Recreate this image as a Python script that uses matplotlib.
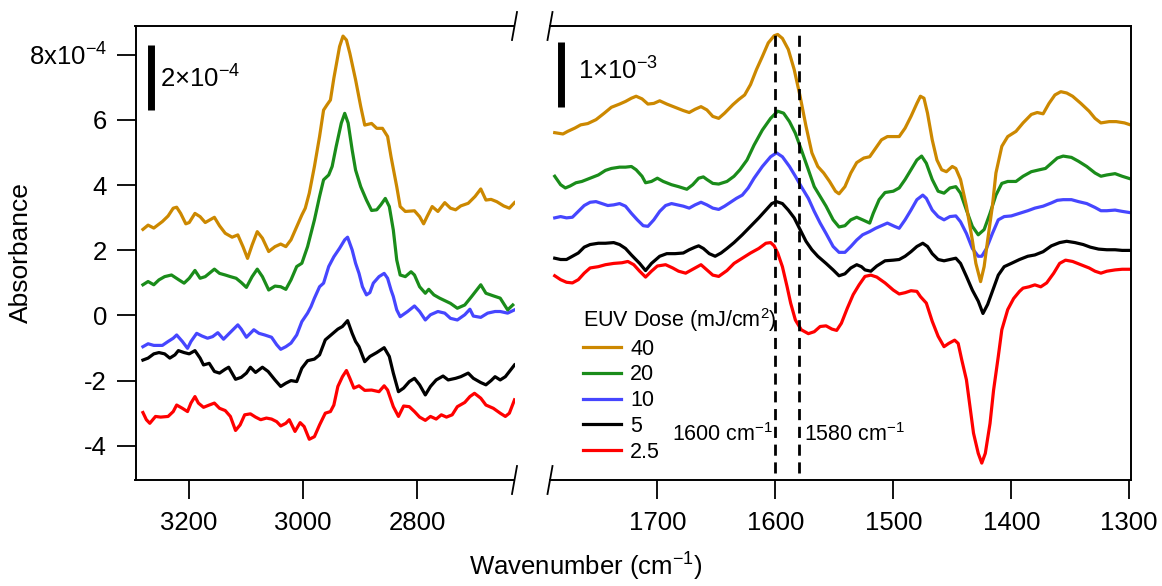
import matplotlib
matplotlib.use("Agg")
import matplotlib.pyplot as plt
from matplotlib.lines import Line2D

plt.rcParams["font.family"] = ["Liberation Sans", "DejaVu Sans"]
plt.rcParams["mathtext.fontset"] = "custom"
plt.rcParams["mathtext.rm"] = "Liberation Sans"
plt.rcParams["mathtext.it"] = "Liberation Sans:italic"
plt.rcParams["mathtext.bf"] = "Liberation Sans:bold"
plt.rcParams["axes.unicode_minus"] = False

# ---- data: left panel (C-H region), absorbance in units of 1e-4 ----
L_WN_40 = [3280, 3271, 3261, 3246, 3236, 3227, 3221, 3214, 3205, 3199, 3189, 3180, 3171, 3155, 3146, 3136,
           3124, 3114, 3105, 3097, 3089, 3080, 3071, 3060, 3049, 3039, 3030, 3021, 3011, 3002, 2996, 2989,
           2980, 2971, 2964, 2958, 2952, 2946, 2936, 2930, 2924, 2918, 2908, 2899, 2892, 2880, 2871, 2861,
           2852, 2846, 2836, 2830, 2821, 2805, 2796, 2789, 2783, 2774, 2764, 2752, 2742, 2733, 2724, 2711,
           2699, 2689, 2680, 2671, 2661, 2649, 2639, 2630]
L_AB_40 = [2.64, 2.77, 2.68, 2.88, 3.05, 3.29, 3.32, 3.13, 2.81, 2.85, 3.13, 3.03, 2.85, 3.01, 2.75, 2.52,
           2.40, 2.47, 2.11, 1.75, 2.16, 2.57, 2.37, 1.96, 2.11, 2.19, 2.11, 2.32, 2.72, 3.08, 3.29, 3.75,
           4.57, 5.49, 6.30, 6.46, 6.61, 7.28, 8.25, 8.57, 8.45, 8.04, 7.23, 6.41, 5.84, 5.89, 5.74, 5.74,
           5.49, 4.87, 3.95, 3.34, 3.19, 3.21, 3.03, 2.81, 3.03, 3.34, 3.19, 3.46, 3.29, 3.24, 3.36, 3.44,
           3.65, 3.88, 3.54, 3.56, 3.49, 3.36, 3.29, 3.46]

L_WN_20 = [3280, 3271, 3261, 3252, 3242, 3230, 3217, 3208, 3199, 3189, 3180, 3171, 3155, 3146, 3136, 3127,
           3117, 3108, 3099, 3089, 3080, 3071, 3060, 3049, 3039, 3030, 3021, 3011, 3002, 2992, 2980, 2971,
           2964, 2955, 2949, 2942, 2933, 2927, 2921, 2914, 2908, 2899, 2889, 2880, 2871, 2864, 2856, 2849,
           2842, 2836, 2830, 2821, 2811, 2805, 2796, 2786, 2780, 2771, 2761, 2742, 2730, 2717, 2705, 2689,
           2680, 2667, 2655, 2642, 2633]
L_AB_20 = [0.94, 1.04, 0.94, 1.09, 1.19, 1.24, 1.09, 0.99, 1.14, 1.38, 1.14, 1.19, 1.42, 1.29, 1.24, 1.19,
           1.14, 1.01, 0.86, 1.19, 1.42, 1.19, 0.78, 0.90, 0.88, 0.80, 1.09, 1.50, 1.60, 2.11, 2.93, 3.65,
           4.16, 4.31, 4.57, 5.18, 5.90, 6.20, 5.90, 5.08, 4.46, 3.95, 3.54, 3.22, 3.24, 3.39, 3.59, 3.34,
           2.62, 1.70, 1.24, 1.19, 1.34, 1.24, 0.88, 0.68, 0.80, 0.63, 0.53, 0.37, 0.22, 0.32, 0.58, 0.94,
           0.68, 0.60, 0.53, 0.17, 0.32]

L_WN_10 = [3280, 3271, 3261, 3246, 3236, 3227, 3221, 3211, 3202, 3196, 3186, 3177, 3167, 3158, 3149, 3139,
           3130, 3114, 3108, 3099, 3086, 3077, 3067, 3055, 3046, 3039, 3030, 3021, 3011, 3002, 2992, 2986,
           2980, 2971, 2964, 2955, 2946, 2936, 2927, 2922, 2914, 2908, 2902, 2896, 2889, 2883, 2877, 2867,
           2858, 2852, 2846, 2842, 2836, 2830, 2817, 2805, 2796, 2786, 2777, 2764, 2752, 2742, 2730, 2717,
           2708, 2702, 2689, 2677, 2664, 2655, 2642, 2630]
L_AB_10 = [-0.96, -0.87, -0.92, -0.92, -0.80, -0.70, -0.60, -0.80, -1.01, -0.80, -0.55, -0.63, -0.70, -0.65,
           -0.53, -0.73, -0.57, -0.29, -0.42, -0.67, -0.44, -0.55, -0.60, -0.67, -0.90, -1.04, -0.96, -0.85,
           -0.60, -0.19, 0.07, 0.27, 0.53, 0.88, 0.99, 1.50, 1.80, 2.06, 2.32, 2.40, 2.01, 1.60, 1.29, 0.88,
           0.63, 0.70, 0.99, 1.19, 1.29, 1.14, 0.78, 0.58, 0.17, -0.04, 0.12, 0.29, 0.12, -0.14, 0.02, 0.12,
           0.07, -0.09, -0.14, 0.02, 0.19, -0.02, -0.06, 0.07, 0.12, 0.12, 0.07, 0.17]

L_WN_5 = [3280, 3271, 3261, 3252, 3242, 3233, 3224, 3218, 3208, 3199, 3189, 3180, 3174, 3164, 3155, 3146,
          3136, 3130, 3118, 3108, 3099, 3092, 3083, 3071, 3061, 3049, 3039, 3030, 3021, 3011, 3002, 2992,
          2980, 2971, 2961, 2949, 2939, 2931, 2922, 2914, 2908, 2902, 2892, 2883, 2871, 2858, 2849, 2842,
          2833, 2824, 2814, 2805, 2796, 2786, 2777, 2767, 2755, 2746, 2733, 2724, 2711, 2702, 2689, 2680,
          2671, 2664, 2655, 2646, 2630]
L_AB_5 = [-1.37, -1.31, -1.18, -1.14, -1.18, -1.31, -1.21, -1.08, -1.14, -1.18, -1.08, -1.31, -1.52, -1.47,
          -1.72, -1.77, -1.65, -1.59, -1.96, -1.90, -1.77, -1.59, -1.75, -1.59, -1.72, -1.98, -2.18, -2.08,
          -2.00, -2.03, -1.62, -1.39, -1.34, -1.21, -0.75, -0.57, -0.42, -0.34, -0.16, -0.55, -0.80, -0.96,
          -1.42, -1.26, -1.14, -0.99, -1.26, -1.77, -2.34, -2.23, -2.03, -1.93, -2.13, -2.44, -2.18, -1.98,
          -1.86, -1.98, -1.93, -1.88, -1.77, -1.93, -2.06, -2.13, -2.00, -1.88, -1.98, -1.88, -1.52]

L_WN_2p5 = [3280, 3274, 3268, 3258, 3249, 3236, 3227, 3221, 3211, 3202, 3196, 3189, 3183, 3174, 3164, 3155,
            3146, 3136, 3127, 3118, 3110, 3102, 3092, 3083, 3074, 3064, 3055, 3046, 3039, 3030, 3024, 3014,
            3005, 2998, 2989, 2980, 2971, 2961, 2952, 2946, 2939, 2931, 2924, 2918, 2911, 2902, 2892, 2880,
            2867, 2858, 2852, 2842, 2833, 2824, 2814, 2805, 2796, 2786, 2777, 2767, 2758, 2749, 2739, 2730,
            2717, 2708, 2700, 2689, 2680, 2667, 2655, 2646, 2639, 2630]
L_AB_2p5 = [-2.98, -3.20, -3.31, -3.10, -3.12, -3.10, -2.95, -2.75, -2.85, -2.95, -2.69, -2.49, -2.69, -2.82,
            -2.75, -2.69, -2.85, -2.92, -3.10, -3.53, -3.36, -3.05, -3.02, -3.12, -3.20, -3.15, -3.18, -3.26,
            -3.39, -3.31, -3.20, -3.56, -3.29, -3.41, -3.80, -3.72, -3.36, -3.00, -2.95, -2.75, -2.18, -1.88,
            -1.69, -1.93, -2.23, -2.16, -2.30, -2.29, -2.34, -2.16, -2.29, -2.80, -3.10, -2.78, -2.80, -2.95,
            -3.12, -3.22, -3.10, -3.18, -3.05, -3.12, -3.05, -2.80, -2.67, -2.49, -2.39, -2.54, -2.75, -2.85,
            -3.00, -3.10, -3.00, -2.59]

# ---- data: right panel (fingerprint region), absorbance in units of 1e-3 ----
R_WN_40 = [1787, 1780, 1776, 1770, 1765, 1759, 1752, 1745, 1739, 1732, 1727, 1722, 1718, 1713, 1708, 1703,
           1698, 1692, 1685, 1678, 1673, 1668, 1663, 1658, 1653, 1648, 1643, 1636, 1631, 1626, 1621, 1616,
           1611, 1606, 1601, 1598, 1594, 1589, 1584, 1579, 1574, 1569, 1564, 1559, 1554, 1549, 1546, 1541,
           1536, 1531, 1525, 1520, 1515, 1510, 1505, 1500, 1495, 1490, 1485, 1480, 1477, 1474, 1471, 1467,
           1463, 1459, 1455, 1450, 1447, 1443, 1438, 1433, 1430, 1426, 1423, 1420, 1416, 1413, 1408, 1403,
           1396, 1390, 1383, 1378, 1373, 1368, 1363, 1358, 1353, 1348, 1341, 1334, 1329, 1324, 1317, 1311,
           1304, 1299]
R_AB_40 = [5.34, 5.32, 5.36, 5.41, 5.46, 5.48, 5.54, 5.64, 5.73, 5.78, 5.82, 5.87, 5.90, 5.86, 5.78, 5.79,
           5.83, 5.78, 5.73, 5.68, 5.65, 5.70, 5.74, 5.69, 5.59, 5.56, 5.64, 5.77, 5.85, 5.92, 6.08, 6.31,
           6.51, 6.72, 6.83, 6.85, 6.79, 6.62, 6.31, 5.90, 5.44, 5.03, 4.82, 4.72, 4.59, 4.44, 4.40, 4.51,
           4.72, 4.88, 4.95, 4.97, 5.10, 5.23, 5.28, 5.28, 5.28, 5.41, 5.59, 5.79, 5.90, 5.87, 5.64, 5.23,
           4.92, 4.77, 4.74, 4.82, 4.79, 4.62, 4.21, 3.69, 3.33, 3.05, 3.28, 3.69, 4.21, 4.72, 5.13, 5.28,
           5.36, 5.49, 5.62, 5.65, 5.63, 5.79, 5.92, 5.97, 5.95, 5.90, 5.79, 5.67, 5.56, 5.49, 5.51, 5.51,
           5.49, 5.46]

R_WN_20 = [1787, 1782, 1778, 1774, 1769, 1764, 1757, 1750, 1744, 1739, 1732, 1727, 1722, 1718, 1713, 1710,
           1705, 1700, 1695, 1688, 1682, 1675, 1670, 1665, 1661, 1658, 1653, 1648, 1641, 1635, 1630, 1624,
           1618, 1611, 1604, 1598, 1593, 1588, 1583, 1578, 1572, 1567, 1562, 1557, 1551, 1546, 1541, 1536,
           1531, 1526, 1520, 1517, 1512, 1507, 1500, 1495, 1490, 1485, 1480, 1476, 1472, 1467, 1462, 1457,
           1452, 1447, 1443, 1438, 1433, 1428, 1423, 1418, 1413, 1408, 1403, 1396, 1390, 1383, 1376, 1371,
           1366, 1361, 1356, 1349, 1343, 1336, 1329, 1324, 1319, 1312, 1306, 1299]
R_AB_20 = [4.67, 4.54, 4.49, 4.52, 4.57, 4.59, 4.64, 4.69, 4.76, 4.79, 4.81, 4.81, 4.82, 4.77, 4.67, 4.57,
           4.59, 4.64, 4.59, 4.54, 4.51, 4.47, 4.54, 4.64, 4.66, 4.62, 4.56, 4.55, 4.59, 4.67, 4.77, 4.92,
           5.15, 5.38, 5.56, 5.67, 5.64, 5.51, 5.33, 5.08, 4.77, 4.51, 4.36, 4.21, 4.00, 3.89, 3.91, 4.00,
           4.04, 4.00, 3.95, 4.10, 4.31, 4.42, 4.44, 4.49, 4.62, 4.77, 4.92, 4.98, 4.87, 4.62, 4.44, 4.41,
           4.49, 4.51, 4.41, 4.15, 3.90, 3.77, 3.85, 4.10, 4.38, 4.56, 4.59, 4.59, 4.67, 4.74, 4.77, 4.79,
           4.87, 4.95, 4.98, 4.96, 4.90, 4.82, 4.72, 4.67, 4.69, 4.71, 4.67, 4.63]

R_WN_10 = [1787, 1782, 1777, 1772, 1767, 1762, 1757, 1752, 1747, 1742, 1737, 1732, 1727, 1722, 1717, 1712,
           1708, 1703, 1698, 1693, 1688, 1683, 1678, 1673, 1668, 1663, 1658, 1653, 1648, 1643, 1638, 1633,
           1628, 1623, 1618, 1611, 1604, 1599, 1594, 1588, 1583, 1578, 1572, 1567, 1562, 1557, 1551, 1546,
           1541, 1536, 1531, 1526, 1520, 1515, 1510, 1505, 1499, 1495, 1490, 1485, 1480, 1475, 1472, 1467,
           1462, 1457, 1452, 1447, 1443, 1438, 1433, 1428, 1425, 1421, 1416, 1411, 1406, 1400, 1393, 1386,
           1380, 1373, 1366, 1361, 1356, 1349, 1343, 1336, 1329, 1324, 1319, 1312, 1306, 1299]
R_AB_10 = [4.03, 4.05, 4.03, 4.04, 4.13, 4.22, 4.27, 4.28, 4.25, 4.22, 4.23, 4.25, 4.21, 4.10, 4.00, 3.91,
           3.90, 4.00, 4.13, 4.22, 4.25, 4.23, 4.21, 4.18, 4.23, 4.27, 4.23, 4.18, 4.16, 4.21, 4.27, 4.33,
           4.38, 4.49, 4.64, 4.82, 4.97, 5.03, 4.97, 4.82, 4.67, 4.51, 4.33, 4.13, 3.95, 3.79, 3.59, 3.50,
           3.50, 3.59, 3.69, 3.77, 3.82, 3.87, 3.91, 3.95, 3.90, 3.87, 4.00, 4.15, 4.31, 4.38, 4.33, 4.15,
           4.05, 4.00, 4.05, 4.06, 3.97, 3.79, 3.56, 3.44, 3.44, 3.56, 3.79, 4.00, 4.05, 4.06, 4.10, 4.14,
           4.18, 4.21, 4.26, 4.30, 4.31, 4.31, 4.28, 4.25, 4.19, 4.14, 4.14, 4.15, 4.13, 4.11]

R_WN_5 = [1787, 1782, 1777, 1772, 1767, 1762, 1757, 1750, 1744, 1737, 1732, 1727, 1722, 1715, 1710, 1705,
          1698, 1692, 1685, 1678, 1673, 1668, 1665, 1661, 1656, 1651, 1646, 1641, 1635, 1628, 1621, 1614,
          1608, 1603, 1599, 1594, 1589, 1584, 1579, 1574, 1569, 1564, 1557, 1551, 1546, 1541, 1536, 1531,
          1527, 1524, 1519, 1514, 1507, 1500, 1495, 1490, 1485, 1480, 1475, 1471, 1467, 1462, 1457, 1452,
          1447, 1443, 1438, 1433, 1428, 1424, 1420, 1416, 1411, 1406, 1400, 1393, 1386, 1380, 1373, 1366,
          1359, 1353, 1346, 1339, 1333, 1326, 1319, 1312, 1306, 1299]
R_AB_5 = [3.41, 3.39, 3.39, 3.44, 3.49, 3.58, 3.62, 3.64, 3.64, 3.65, 3.62, 3.56, 3.46, 3.33, 3.22, 3.33,
          3.44, 3.48, 3.48, 3.49, 3.54, 3.58, 3.60, 3.56, 3.48, 3.44, 3.49, 3.56, 3.65, 3.77, 3.90, 4.03,
          4.15, 4.25, 4.28, 4.25, 4.15, 4.03, 3.85, 3.67, 3.54, 3.44, 3.33, 3.23, 3.14, 3.17, 3.26, 3.31,
          3.28, 3.23, 3.21, 3.29, 3.37, 3.38, 3.39, 3.44, 3.51, 3.59, 3.64, 3.59, 3.48, 3.39, 3.37, 3.39,
          3.41, 3.33, 3.13, 2.92, 2.75, 2.56, 2.70, 2.90, 3.15, 3.28, 3.33, 3.39, 3.44, 3.46, 3.51, 3.60,
          3.65, 3.67, 3.65, 3.62, 3.58, 3.55, 3.54, 3.54, 3.53, 3.53]

R_WN_2p5 = [1787, 1782, 1777, 1772, 1767, 1762, 1757, 1750, 1744, 1737, 1730, 1725, 1720, 1715, 1710, 1705,
            1700, 1693, 1687, 1682, 1676, 1671, 1666, 1663, 1658, 1653, 1648, 1641, 1635, 1628, 1621, 1614,
            1608, 1604, 1601, 1598, 1594, 1590, 1587, 1583, 1578, 1572, 1567, 1562, 1557, 1552, 1548, 1544,
            1539, 1534, 1529, 1524, 1519, 1514, 1507, 1500, 1495, 1490, 1485, 1480, 1477, 1472, 1467, 1462,
            1457, 1453, 1448, 1445, 1442, 1438, 1435, 1432, 1428, 1425, 1422, 1418, 1415, 1411, 1408, 1403,
            1398, 1393, 1390, 1385, 1380, 1375, 1370, 1364, 1359, 1354, 1348, 1341, 1334, 1329, 1324, 1319,
            1312, 1306, 1299]
R_AB_2p5 = [3.14, 3.08, 3.04, 3.03, 3.08, 3.18, 3.26, 3.28, 3.31, 3.33, 3.34, 3.36, 3.31, 3.21, 3.12, 3.21,
            3.29, 3.31, 3.26, 3.21, 3.18, 3.23, 3.28, 3.31, 3.23, 3.15, 3.13, 3.22, 3.33, 3.41, 3.49, 3.56,
            3.64, 3.65, 3.60, 3.49, 3.28, 2.97, 2.72, 2.46, 2.31, 2.25, 2.28, 2.36, 2.37, 2.32, 2.30, 2.41,
            2.64, 2.85, 3.00, 3.13, 3.15, 3.12, 3.03, 2.92, 2.86, 2.88, 2.91, 2.90, 2.82, 2.72, 2.44, 2.21,
            2.05, 2.10, 2.15, 2.10, 1.85, 1.54, 1.13, 0.72, 0.41, 0.26, 0.41, 0.87, 1.38, 1.90, 2.31, 2.62,
            2.79, 2.90, 2.95, 2.97, 3.00, 2.97, 3.03, 3.18, 3.33, 3.38, 3.36, 3.31, 3.26, 3.21, 3.18, 3.21,
            3.23, 3.24, 3.24]

DOSES = ["40", "20", "10", "5", "2.5"]
COLORS = ["#cc8800", "#1a8c1a", "#4646ff", "black", "#ff0000"]
LEFT = [(L_WN_40, L_AB_40), (L_WN_20, L_AB_20), (L_WN_10, L_AB_10), (L_WN_5, L_AB_5), (L_WN_2p5, L_AB_2p5)]
RIGHT = [(R_WN_40, R_AB_40), (R_WN_20, R_AB_20), (R_WN_10, R_AB_10), (R_WN_5, R_AB_5), (R_WN_2p5, R_AB_2p5)]
MARKERS = [1600, 1580]

W, H = 1162, 586
fig = plt.figure(figsize=(W / 100, H / 100), dpi=100)


def box(x0, y0, x1, y1):  # pixel box (origin top-left) -> figure rect
    return [x0 / W, 1 - y1 / H, (x1 - x0) / W, (y1 - y0) / H]


axL = fig.add_axes(box(135.5, 26, 514.5, 480))
axR = fig.add_axes(box(550, 26, 1131, 480))

LW = 2.3
for (wn, ab), c in reversed(list(zip(LEFT, COLORS))):
    axL.plot(wn, ab, color=c, lw=LW)
handles = []
for (wn, ab), c, d in reversed(list(zip(RIGHT, COLORS, DOSES))):
    (ln,) = axR.plot(wn, ab, color=c, lw=LW, label=d)
    handles.append(ln)
handles = handles[::-1]

axL.set_xlim(3293, 2630)
axL.set_ylim(-5.05, 8.88)
axR.set_xlim(1791, 1298.5)
axR.set_ylim(0, 6.98)

for ax in (axL, axR):
    for s in ax.spines.values():
        s.set_linewidth(1.4)
    ax.tick_params(axis="both", direction="out", length=13.5, width=1.3,
                   labelsize=18.5, pad=9, color="black")
axL.spines["right"].set_visible(False)
axR.spines["left"].set_visible(False)
axR.tick_params(axis="y", left=False, labelleft=False)
axL.tick_params(axis="y", pad=7)

axL.set_xticks([3200, 3000, 2800])
axL.set_yticks([-4, -2, 0, 2, 4, 6, 8])
axL.set_yticklabels(["-4", "-2", "0", "2", "4", "6", "8x10$^{-4}$"])
axR.set_xticks([1700, 1600, 1500, 1400, 1300])

# scale bars
axL.plot([3266, 3266], [6.3, 8.3], color="black", lw=5, solid_capstyle="butt")
axR.plot([1781.5, 1781.5], [5.74, 6.74], color="black", lw=5, solid_capstyle="butt")
fig.text(160 / W, 1 - 88 / H, "2\u00d710$^{-4}$", fontsize=18.5, va="baseline", ha="left")
fig.text(578 / W, 1 - 80 / H, "1\u00d710$^{-3}$", fontsize=18.5, va="baseline", ha="left")

# marker lines
for m in MARKERS:
    axR.axvline(m, ymin=0.015, ymax=0.985, color="black", lw=2, dashes=(4, 2.4))
axR.text(1601.5, 0.60, "1600 cm$^{-1}$", fontsize=15.5, ha="right", va="baseline")
axR.text(1576, 0.60, "1580 cm$^{-1}$", fontsize=15.5, ha="left", va="baseline")

leg = axR.legend(handles=handles, labels=DOSES, title="EUV Dose (mJ/cm$^{2}$)",
                 loc="upper left", bbox_to_anchor=(583 / W, 1 - 306 / H),
                 bbox_transform=fig.transFigure, frameon=False, fontsize=15.5,
                 title_fontsize=15.5, handlelength=1.75, handletextpad=0.45,
                 labelspacing=0.22, borderpad=0, borderaxespad=0, alignment="left")

# axis break marks
for xp in (514.5, 550):
    for yp in (26, 480):
        fig.add_artist(Line2D([(xp - 2.5) / W, (xp + 2.5) / W],
                              [1 - (yp + 14) / H, 1 - (yp - 14) / H],
                              color="black", lw=1.3, transform=fig.transFigure))

fig.text(21 / W, 1 - 253 / H, "Absorbance", rotation=90, fontsize=19, ha="center", va="center")
fig.text(586 / W, 1 - 576 / H, "Wavenumber (cm$^{-1}$)", fontsize=18.5, ha="center", va="baseline")

fig.savefig("out.png", dpi=100)
